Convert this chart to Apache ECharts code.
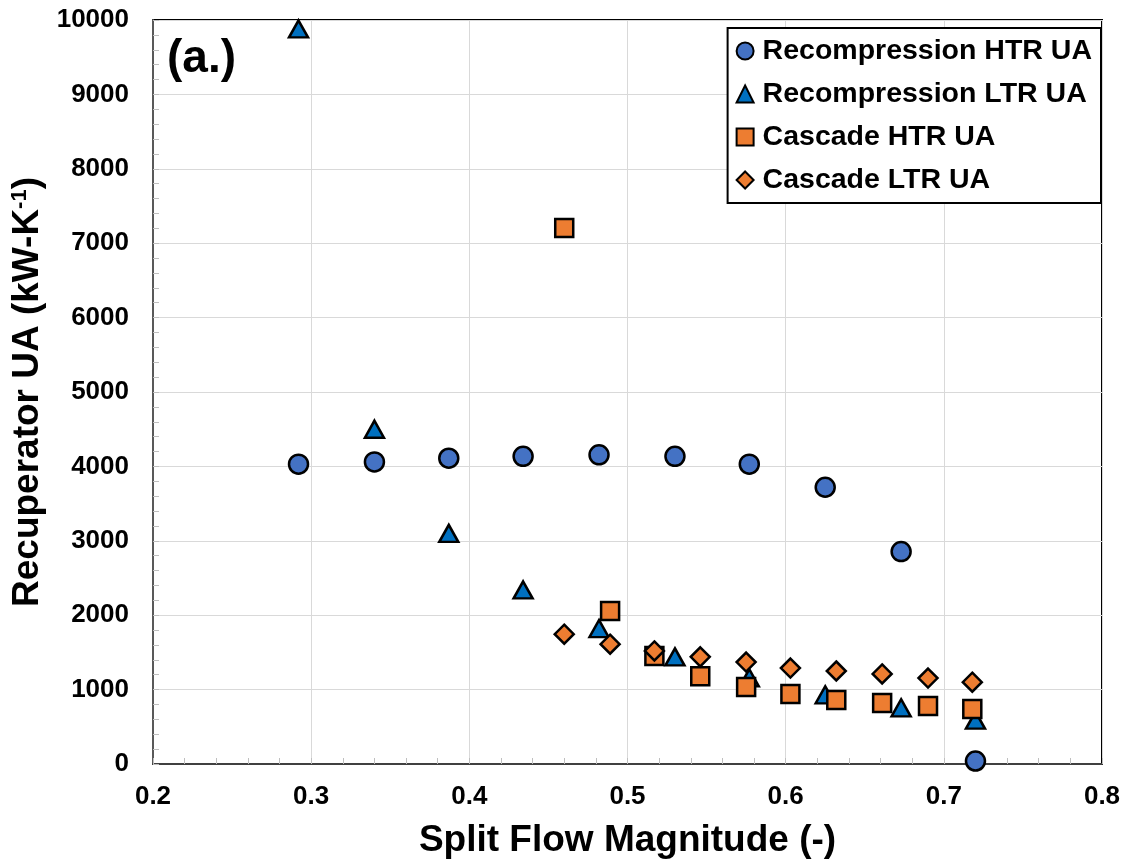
<!DOCTYPE html>
<html>
<head>
<meta charset="utf-8">
<script src="https://cdn.jsdelivr.net/npm/echarts@6/dist/echarts.min.js"></script>
<style>
  html, body { margin: 0; padding: 0; background: #fff; }
  #chart { width: 1129px; height: 860px; }
</style>
</head>
<body>
<div id="chart"></div>
<script>
// Split flow magnitude for each design point
const recompSplit = [0.292, 0.340, 0.387, 0.434, 0.482, 0.530, 0.577, 0.625, 0.673, 0.720];
const cascadeSplit = [0.460, 0.489, 0.517, 0.546, 0.575, 0.603, 0.632, 0.661, 0.690, 0.718];

// Recuperator UA values (kW/K)
const recompHTR = [4030, 4060, 4110, 4135, 4155, 4135, 4030, 3720, 2855, 40];
const recompLTR = [9880, 4500, 3100, 2340, 1820, 1440, 1160, 930, 755, 590];
const cascadeHTR = [7205, 2055, 1450, 1180, 1035, 940, 860, 820, 780, 740];
const cascadeLTR = [1745, 1610, 1520, 1440, 1370, 1290, 1250, 1210, 1155, 1100];

const seriesNames = ['Recompression HTR UA', 'Recompression LTR UA', 'Cascade HTR UA', 'Cascade LTR UA'];

const xTicks = { min: 0.2, max: 0.8, interval: 0.1 };
const yTicks = { min: 0, max: 10000, interval: 1000 };

const FONT = 'Liberation Sans, Arial, sans-serif';

function pairs(xs, ys) {
  return xs.map((x, i) => [x, ys[i]]);
}

const chart = echarts.init(document.getElementById('chart'), null, { renderer: 'canvas' });

const markerBase = { borderColor: '#000', borderWidth: 2.5, opacity: 1 };

chart.setOption({
  animation: false,
  backgroundColor: '#fff',
  grid: {
    left: 153, right: 27, top: 20, bottom: 96,
    containLabel: false,
    outerBoundsMode: 'none',
    show: true, borderColor: '#000', borderWidth: 2, backgroundColor: 'transparent'
  },
  xAxis: {
    type: 'value',
    min: xTicks.min, max: xTicks.max, interval: xTicks.interval,
    name: 'Split Flow Magnitude (-)',
    nameLocation: 'middle',
    nameGap: 58,
    nameTextStyle: { fontFamily: FONT, fontWeight: 'bold', fontSize: 37, color: '#000' },
    axisLine: { show: true, onZero: false, lineStyle: { color: '#404040', width: 2 } },
    axisTick: { show: true, inside: true, length: 6, lineStyle: { color: '#bfbfbf' } },
    minorTick: { show: true, splitNumber: 5, length: 6, lineStyle: { color: '#bfbfbf' } },
    axisLabel: {
      margin: 20,
      fontFamily: FONT, fontWeight: 'bold', fontSize: 26, color: '#000',
      formatter: v => v.toFixed(1)
    },
    splitLine: { show: true, lineStyle: { color: '#d9d9d9', width: 1 } }
  },
  yAxis: {
    type: 'value',
    min: yTicks.min, max: yTicks.max, interval: yTicks.interval,
    name: '{t|Recuperator UA (kW-K}{s|-1}{t|)}',
    nameLocation: 'middle',
    nameGap: 102,
    nameTextStyle: {
      rich: {
        t: { fontFamily: FONT, fontWeight: 'bold', fontSize: 37, color: '#000' },
        s: { fontFamily: FONT, fontWeight: 'bold', fontSize: 22, color: '#000', verticalAlign: 'top', padding: [0, 0, 14, 0] }
      }
    },
    axisLine: { show: true, onZero: false, lineStyle: { color: '#595959', width: 2 } },
    axisTick: { show: true, inside: true, length: 6, lineStyle: { color: '#bfbfbf' } },
    minorTick: { show: true, splitNumber: 5, length: 6, lineStyle: { color: '#bfbfbf' } },
    axisLabel: {
      margin: 24,
      fontFamily: FONT, fontWeight: 'bold', fontSize: 26, color: '#000',
      formatter: v => String(v)
    },
    splitLine: { show: true, lineStyle: { color: '#d9d9d9', width: 1 } }
  },
  legend: {
    orient: 'vertical',
    right: 28, top: 28,
    padding: [8, 9, 8, 8],
    borderColor: '#000', borderWidth: 2,
    backgroundColor: '#fff',
    itemWidth: 17, itemHeight: 17,
    itemGap: 13,
    textStyle: { fontFamily: FONT, fontWeight: 'bold', fontSize: 28.5, color: '#000', lineHeight: 30, padding: [0, 0, 0, 4] },
    data: seriesNames
  },
  graphic: [{
    type: 'text', left: 167, top: 36,
    style: { text: '(a.)', fontFamily: FONT, fontWeight: 'bold', fontSize: 46, fill: '#000' }
  }],
  series: [
    {
      name: seriesNames[0], type: 'scatter', symbol: 'circle', symbolSize: 19,
      itemStyle: Object.assign({ color: '#4472C4' }, markerBase),
      data: pairs(recompSplit, recompHTR)
    },
    {
      name: seriesNames[1], type: 'scatter', symbol: 'triangle', symbolSize: [19, 17],
      itemStyle: Object.assign({ color: '#0070C0' }, markerBase),
      data: pairs(recompSplit, recompLTR)
    },
    {
      name: seriesNames[2], type: 'scatter', symbol: 'rect', symbolSize: 18,
      itemStyle: Object.assign({ color: '#ED7D31' }, markerBase),
      data: pairs(cascadeSplit, cascadeHTR)
    },
    {
      name: seriesNames[3], type: 'scatter', symbol: 'diamond', symbolSize: 19,
      itemStyle: Object.assign({ color: '#ED7D31' }, markerBase),
      data: pairs(cascadeSplit, cascadeLTR)
    }
  ]
});
</script>
</body>
</html>
